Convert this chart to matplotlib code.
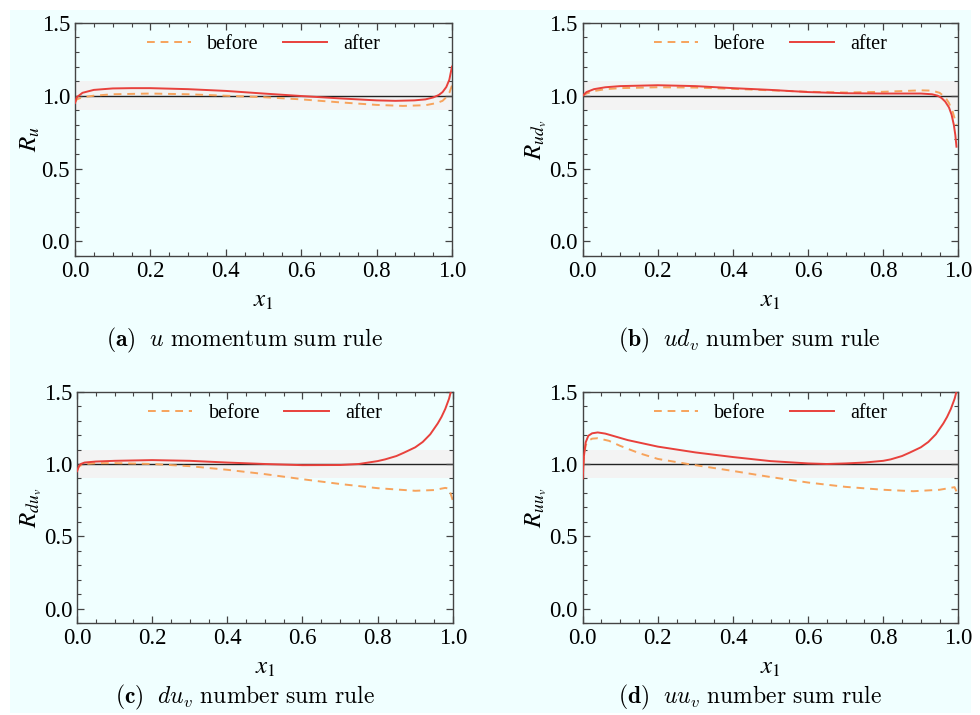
#!/usr/bin/env python3
"""Sum-rule ratios before/after, four panels."""
import matplotlib

matplotlib.use("Agg")
import matplotlib.pyplot as plt
from matplotlib.patches import Rectangle
from matplotlib.ticker import FormatStrFormatter, MultipleLocator

plt.rcParams["font.family"] = ["Liberation Serif", "DejaVu Serif"]
plt.rcParams["mathtext.fontset"] = "stix"

# ---- data ----
x_a_after = [0.0, 0.005, 0.02, 0.05, 0.1, 0.15, 0.2, 0.3, 0.4, 0.5, 0.6, 0.7, 0.8, 0.85,
             0.9, 0.93, 0.95, 0.965, 0.975, 0.985, 0.993, 1.0]
y_a_after = [0.95, 0.99, 1.02, 1.04, 1.05, 1.052, 1.052, 1.045, 1.033, 1.015, 0.998, 0.982,
             0.968, 0.965, 0.968, 0.975, 0.988, 1.005, 1.025, 1.06, 1.11, 1.2]
x_a_before = [0.0, 0.005, 0.02, 0.05, 0.1, 0.2, 0.3, 0.4, 0.5, 0.6, 0.7, 0.8, 0.87, 0.93,
              0.96, 0.975, 0.985, 0.993, 1.0]
y_a_before = [0.955, 0.975, 0.99, 1.0, 1.01, 1.015, 1.01, 1.0, 0.99, 0.975, 0.955, 0.937,
              0.93, 0.935, 0.95, 0.965, 0.99, 1.02, 1.07]

x_b_after = [0.0, 0.01, 0.03, 0.06, 0.1, 0.2, 0.3, 0.4, 0.5, 0.6, 0.7, 0.8, 0.9, 0.93,
             0.945, 0.955, 0.965, 0.975, 0.982, 0.988, 0.992, 0.995]
y_b_after = [1.0, 1.025, 1.045, 1.058, 1.066, 1.072, 1.066, 1.052, 1.04, 1.025, 1.017,
             1.015, 1.015, 1.01, 1.0, 0.985, 0.96, 0.92, 0.87, 0.8, 0.73, 0.65]
x_b_before = [0.0, 0.01, 0.03, 0.06, 0.1, 0.2, 0.3, 0.4, 0.5, 0.6, 0.7, 0.8, 0.9, 0.93,
              0.95, 0.965, 0.975, 0.985, 0.995]
y_b_before = [1.0, 1.015, 1.032, 1.045, 1.052, 1.058, 1.056, 1.047, 1.037, 1.027, 1.022,
              1.027, 1.037, 1.035, 1.02, 0.99, 0.95, 0.89, 0.8]

x_c_after = [0.0, 0.005, 0.01, 0.02, 0.05, 0.1, 0.2, 0.3, 0.4, 0.5, 0.6, 0.7, 0.75, 0.8,
             0.82, 0.85, 0.87, 0.9, 0.92, 0.94, 0.96, 0.97, 0.98, 0.99, 0.995]
y_c_after = [0.95, 0.985, 1.0, 1.01, 1.017, 1.022, 1.027, 1.022, 1.01, 1.0, 0.992, 0.993,
             1.0, 1.02, 1.032, 1.055, 1.078, 1.115, 1.152, 1.205, 1.28, 1.325, 1.38, 1.45, 1.5]
x_c_before = [0.0, 0.005, 0.02, 0.05, 0.1, 0.2, 0.3, 0.4, 0.5, 0.6, 0.7, 0.8, 0.9, 0.95,
              0.98, 0.99, 1.0]
y_c_before = [0.955, 0.985, 1.0, 1.005, 1.006, 1.0, 0.985, 0.96, 0.93, 0.895, 0.862,
              0.833, 0.815, 0.82, 0.835, 0.83, 0.75]

x_d_after = [0.0, 0.003, 0.008, 0.015, 0.025, 0.04, 0.06, 0.08, 0.12, 0.2, 0.3, 0.4, 0.5,
             0.6, 0.65, 0.7, 0.75, 0.8, 0.82, 0.85, 0.87, 0.9, 0.92, 0.94, 0.96, 0.97, 0.98,
             0.99, 0.995]
y_d_after = [0.9, 1.05, 1.15, 1.195, 1.212, 1.218, 1.21, 1.195, 1.165, 1.12, 1.08, 1.048,
             1.02, 1.004, 1.0, 1.004, 1.01, 1.022, 1.032, 1.055, 1.078, 1.115, 1.152, 1.205,
             1.28, 1.325, 1.38, 1.45, 1.5]
x_d_before = [0.0, 0.003, 0.008, 0.015, 0.025, 0.04, 0.07, 0.1, 0.15, 0.2, 0.28, 0.35,
              0.4, 0.5, 0.6, 0.7, 0.8, 0.88, 0.95, 0.99, 1.0]
y_d_before = [0.9, 1.05, 1.13, 1.16, 1.175, 1.178, 1.16, 1.125, 1.075, 1.035, 1.0, 0.972,
              0.952, 0.91, 0.872, 0.842, 0.822, 0.812, 0.822, 0.84, 0.78]

ylabels = [r"$R_{u}$", r"$R_{ud_v}$", r"$R_{du_v}$", r"$R_{uu_v}$"]
captions = [
    r"$\mathbf{(a)}\ \ u\ \mathrm{momentum\ sum\ rule}$",
    r"$\mathbf{(b)}\ \ ud_v\ \mathrm{number\ sum\ rule}$",
    r"$\mathbf{(c)}\ \ du_v\ \mathrm{number\ sum\ rule}$",
    r"$\mathbf{(d)}\ \ uu_v\ \mathrm{number\ sum\ rule}$",
]

RED = "#e8413c"
ORANGE = "#f7a35c"
BG = "#f0ffff"

fig = plt.figure(figsize=(9.8, 7.15), dpi=100, facecolor="white")
fig.patches.append(Rectangle((10 / 980, 2 / 715), 961 / 980, 703 / 715,
                             transform=fig.transFigure, facecolor=BG,
                             edgecolor="none", zorder=-10))

boxes = [
    (0.0765, 0.642, 0.3847, 0.326),
    (0.5946, 0.642, 0.3833, 0.326),
    (0.0786, 0.1283, 0.3834, 0.324),
    (0.5946, 0.1283, 0.3833, 0.324),
]
series = [
    (x_a_before, y_a_before, x_a_after, y_a_after),
    (x_b_before, y_b_before, x_b_after, y_b_after),
    (x_c_before, y_c_before, x_c_after, y_c_after),
    (x_d_before, y_d_before, x_d_after, y_d_after),
]
caption_pos = [(0.25, 0.503), (0.765, 0.503), (0.25, 0.004), (0.765, 0.004)]

for i, (box, (xb, yb, xa, ya)) in enumerate(zip(boxes, series)):
    ax = fig.add_axes(box)
    ax.set_facecolor("none")
    ax.axhspan(0.9, 1.1, color="#f3f3f3", lw=0, zorder=0)
    ax.axhline(1.0, color="#222222", lw=1.0, zorder=1)
    ax.plot(xb, yb, color=ORANGE, lw=1.4, dashes=(4, 3), label="before", zorder=2)
    ax.plot(xa, ya, color=RED, lw=1.4, label="after", zorder=3)
    ax.set_xlim(0, 1)
    ax.set_ylim(-0.1, 1.5)
    ax.set_xticks([0, 0.2, 0.4, 0.6, 0.8, 1.0])
    ax.set_yticks([0.0, 0.5, 1.0, 1.5])
    ax.xaxis.set_minor_locator(MultipleLocator(0.05))
    ax.yaxis.set_minor_locator(MultipleLocator(0.1))
    ax.tick_params(which="both", direction="in", top=True, right=True,
                   color="#444444", labelsize=16.5)
    ax.tick_params(which="major", length=5, width=0.9)
    ax.tick_params(which="minor", length=3, width=0.8)
    ax.xaxis.set_major_formatter(FormatStrFormatter("%.1f"))
    ax.yaxis.set_major_formatter(FormatStrFormatter("%.1f"))
    for sp in ax.spines.values():
        sp.set_color("#444444")
        sp.set_linewidth(1.0)
    ax.set_xlabel(r"$x_1$", fontsize=18, labelpad=6)
    ax.set_ylabel(ylabels[i], fontsize=18, labelpad=0)
    ax.legend(loc="upper center", ncol=2, frameon=False, fontsize=14.5,
              handlelength=2.2, columnspacing=1.2, borderaxespad=0.2)
    fig.text(*caption_pos[i], captions[i], ha="center", va="bottom",
             fontsize=17, math_fontfamily="cm")

fig.savefig("out.png", dpi=100, facecolor=fig.get_facecolor())
